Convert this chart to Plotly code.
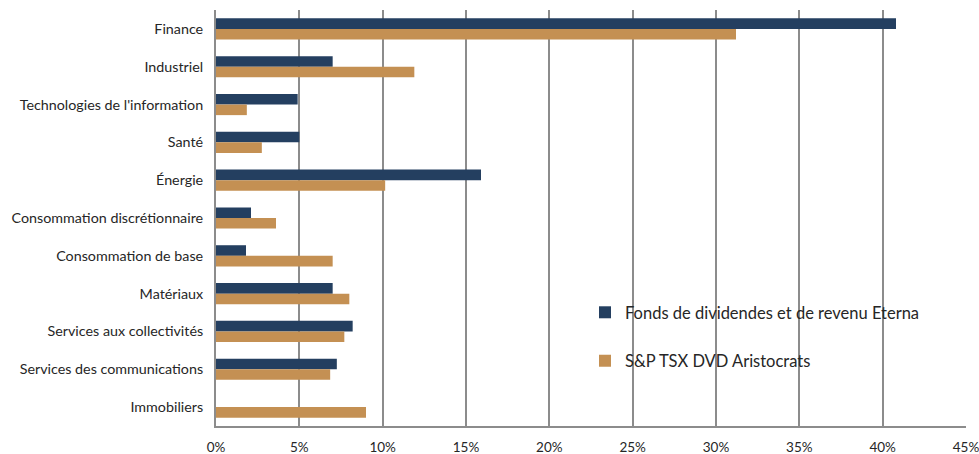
import plotly.graph_objects as go

categories = ["Finance", "Industriel", "Technologies de l'information", "Santé", "Énergie",
              "Consommation discrétionnaire", "Consommation de base", "Matériaux",
              "Services aux collectivités", "Services des communications", "Immobiliers"]
fund_name = "Fonds de dividendes et de revenu Eterna"
index_name = "S&P TSX DVD Aristocrats"
fund_values = [40.8, 7.0, 4.9, 5.0, 15.9, 2.1, 1.8, 7.0, 8.2, 7.25, 0.0]
index_values = [31.2, 11.9, 1.85, 2.75, 10.15, 3.6, 7.0, 8.0, 7.7, 6.85, 9.0]
tick_values = [0, 5, 10, 15, 20, 25, 30, 35, 40, 45]
tick_labels = [f"{v}%" for v in tick_values]

NAVY = "#243f60"
TAN = "#c49053"
FONT = "Lato"

fig = go.Figure()
fig.add_trace(go.Bar(y=categories, x=fund_values, orientation="h", name=fund_name,
                     marker=dict(color=NAVY, line=dict(width=0)),
                     legendgroup="a"))
fig.add_trace(go.Bar(y=categories, x=index_values, orientation="h", name=index_name,
                     marker=dict(color=TAN, line=dict(width=0)),
                     legendgroup="b"))

fig.update_layout(
    width=979, height=454,
    margin=dict(l=216, r=13, t=10, b=28, autoexpand=False),
    plot_bgcolor="white", paper_bgcolor="white",
    barmode="group", bargap=0.44, bargroupgap=0.0,
    font=dict(family=FONT, size=14, color="#262626"),
    legend=dict(x=0.492, y=0.215, xanchor="left", yanchor="middle",
                font=dict(family=FONT, size=16.5, color="#262626"),
                tracegroupgap=24, bgcolor="rgba(0,0,0,0)",
                itemwidth=30),
    showlegend=True,
)
fig.update_xaxes(range=[0, 45], tickvals=tick_values, ticktext=tick_labels,
                 showgrid=True, gridcolor="#8c8c8c", gridwidth=2,
                 showline=True, linecolor="#8c8c8c", linewidth=2,
                 ticks="outside", ticklen=8, tickcolor="white",
                 ticklabeloverflow="allow",
                 zeroline=False, tickfont=dict(size=13.5), automargin=False)
fig.update_yaxes(autorange="reversed", showgrid=False,
                 showline=True, linecolor="#8c8c8c", linewidth=2,
                 ticks="outside", ticklen=8, tickcolor="white",
                 tickfont=dict(size=14.3), automargin=False)

fig.write_html("out.html", config={"displayModeBar": False},
               post_script="document.body.style.margin='0';document.body.style.overflow='hidden';")
